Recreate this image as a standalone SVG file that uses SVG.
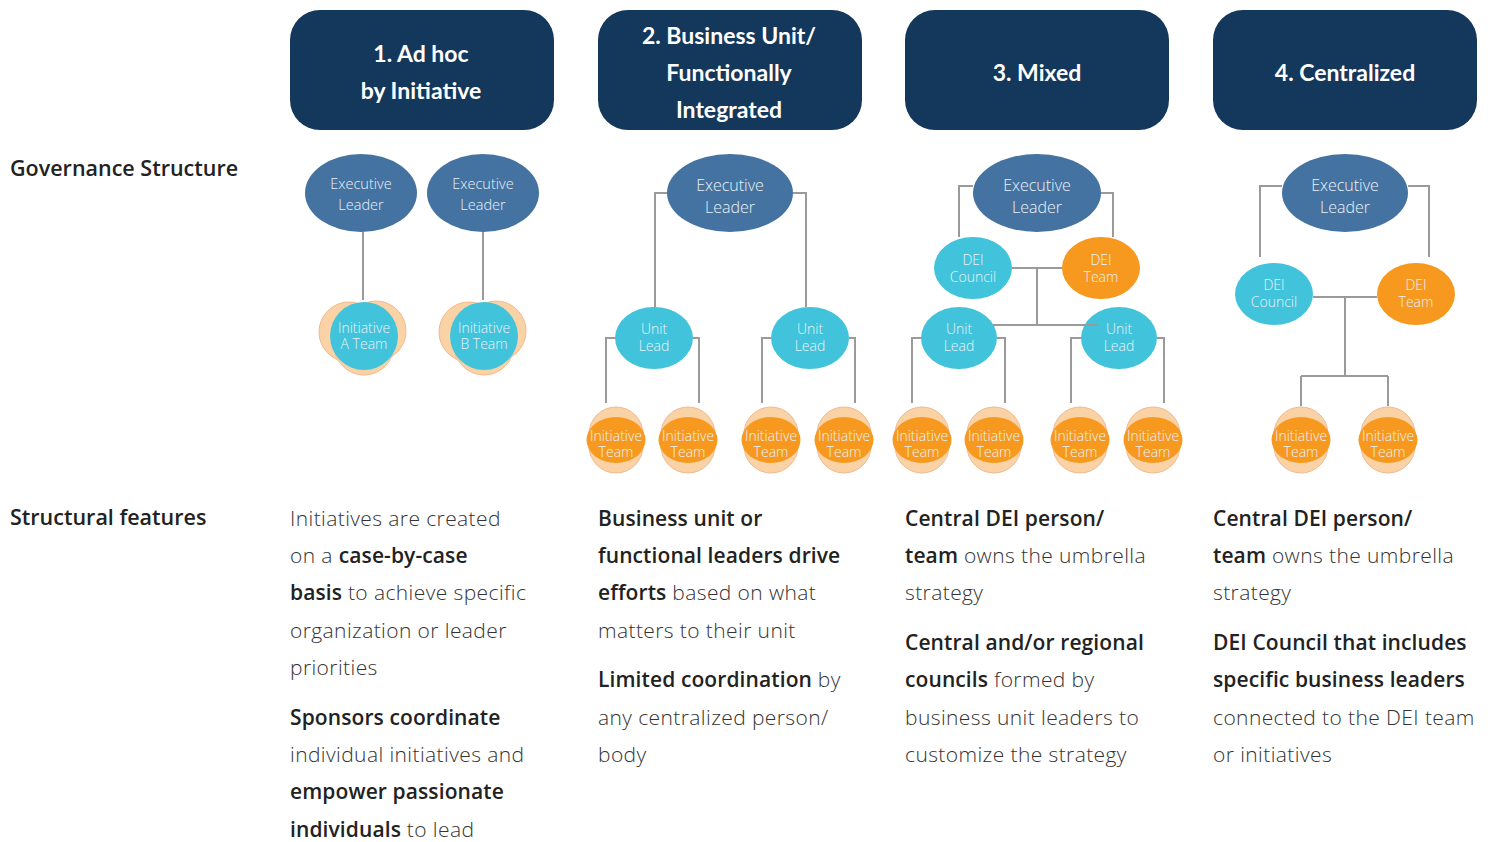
<svg xmlns="http://www.w3.org/2000/svg" width="1488" height="842" viewBox="0 0 1488 842">
<style>
.hdr{fill:#14375c}
.htx{font-family:"Lato","Open Sans",sans-serif;font-weight:700;font-size:23px;fill:#fff;text-anchor:middle}
.lbl{font-family:"Open Sans","Lato",sans-serif;font-weight:600;font-size:21.5px;fill:#222}
.body{font-family:"Open Sans","Lato",sans-serif;font-weight:300;font-size:21px;letter-spacing:0.4px;fill:#333}
.b{font-weight:600;fill:#222;letter-spacing:0.1px}
.ex{fill:#4573a1}
.cy{fill:#42c3dc}
.or{fill:#f7991f}
.pale{fill:#f9d2a6;stroke:#f4b98c;stroke-width:1}
.nt{font-family:"Open Sans","Lato",sans-serif;font-weight:300;fill:#e9f2f8;text-anchor:middle}
.s13{font-size:13.5px}.s14{font-size:14px}.s145{font-size:14.5px}.s16{font-size:16px}
.cn{fill:none;stroke:#9a9a9a;stroke-width:2}
</style>
<rect width="1488" height="842" fill="#fff"/>

<g id="header1"><rect class="hdr" x="290" y="10" width="264" height="120" rx="30"/><text class="htx" x="421" y="62">1. Ad hoc</text><text class="htx" x="421" y="99">by Initiative</text></g>
<g id="header2"><rect class="hdr" x="598" y="10" width="264" height="120" rx="30"/><text class="htx" x="729" y="44">2. Business Unit/</text><text class="htx" x="729" y="81">Functionally</text><text class="htx" x="729" y="118">Integrated</text></g>
<g id="header3"><rect class="hdr" x="905" y="10" width="264" height="120" rx="30"/><text class="htx" x="1037" y="81">3. Mixed</text></g>
<g id="header4"><rect class="hdr" x="1213" y="10" width="264" height="120" rx="30"/><text class="htx" x="1345" y="81">4. Centralized</text></g>

<text class="lbl" x="10" y="176">Governance Structure</text>
<text class="lbl" x="10" y="525">Structural features</text>

<defs>
<g id="team"><circle class="pale" cx="0" cy="-6" r="27"/><circle class="pale" cx="0" cy="6" r="27"/><ellipse class="or" cx="0" cy="0" rx="29.5" ry="23"/><text class="nt s14" x="0" y="0.5">Initiative</text><text class="nt s14" x="0" y="17">Team</text></g>
</defs>

<g id="col1-nodes">
<g id="c1-exec1"><ellipse class="ex" cx="361" cy="193" rx="56" ry="39"/><text class="nt s145" x="361" y="189">Executive</text><text class="nt s145" x="361" y="210">Leader</text></g>
<g id="c1-exec2"><ellipse class="ex" cx="483" cy="193" rx="56" ry="39"/><text class="nt s145" x="483" y="189">Executive</text><text class="nt s145" x="483" y="210">Leader</text></g>
<g id="c1-teamA"><circle class="pale" cx="349" cy="332" r="30"/><circle class="pale" cx="376" cy="331" r="30"/><circle class="pale" cx="364" cy="345" r="30"/><circle class="cy" cx="364" cy="336" r="34"/><text class="nt s14" x="364" y="332.5">Initiative</text><text class="nt s14" x="364" y="349">A Team</text></g>
<g id="c1-teamB"><circle class="pale" cx="469" cy="332" r="30"/><circle class="pale" cx="496" cy="331" r="30"/><circle class="pale" cx="484" cy="345" r="30"/><circle class="cy" cx="484" cy="336" r="34"/><text class="nt s14" x="484" y="332.5">Initiative</text><text class="nt s14" x="484" y="349">B Team</text></g>
</g>

<g id="col2-nodes">
<g id="c2-exec"><ellipse class="ex" cx="730" cy="193" rx="63" ry="39"/><text class="nt s16" x="730" y="191">Executive</text><text class="nt s16" x="730" y="213">Leader</text></g>
<g id="c2-unit1"><ellipse class="cy" cx="654" cy="338" rx="39" ry="31"/><text class="nt s14" x="654" y="333.5">Unit</text><text class="nt s14" x="654" y="350.5">Lead</text></g>
<g id="c2-unit2"><ellipse class="cy" cx="810" cy="338" rx="39" ry="31"/><text class="nt s14" x="810" y="333.5">Unit</text><text class="nt s14" x="810" y="350.5">Lead</text></g>
<use id="c2-t1" href="#team" x="616" y="440"/>
<use id="c2-t2" href="#team" x="688" y="440"/>
<use id="c2-t3" href="#team" x="771" y="440"/>
<use id="c2-t4" href="#team" x="844" y="440"/>
</g>

<g id="col3-nodes">
<g id="c3-exec"><ellipse class="ex" cx="1037" cy="193" rx="64" ry="39"/><text class="nt s16" x="1037" y="191">Executive</text><text class="nt s16" x="1037" y="213">Leader</text></g>
<g id="c3-council"><ellipse class="cy" cx="973" cy="268" rx="39" ry="31"/><text class="nt s14" x="973" y="264.5">DEI</text><text class="nt s14" x="973" y="281.5">Council</text></g>
<g id="c3-team"><ellipse class="or" cx="1101" cy="268" rx="39" ry="31"/><text class="nt s14" x="1101" y="264.5">DEI</text><text class="nt s14" x="1101" y="281.5">Team</text></g>
<g id="c3-unit1"><ellipse class="cy" cx="959" cy="338" rx="38" ry="31"/><text class="nt s14" x="959" y="333.5">Unit</text><text class="nt s14" x="959" y="350.5">Lead</text></g>
<g id="c3-unit2"><ellipse class="cy" cx="1119" cy="338" rx="38" ry="31"/><text class="nt s14" x="1119" y="333.5">Unit</text><text class="nt s14" x="1119" y="350.5">Lead</text></g>
<use id="c3-t1" href="#team" x="922" y="440"/>
<use id="c3-t2" href="#team" x="994" y="440"/>
<use id="c3-t3" href="#team" x="1080" y="440"/>
<use id="c3-t4" href="#team" x="1153" y="440"/>
</g>

<g id="col4-nodes">
<g id="c4-exec"><ellipse class="ex" cx="1345" cy="193" rx="63" ry="39"/><text class="nt s16" x="1345" y="191">Executive</text><text class="nt s16" x="1345" y="213">Leader</text></g>
<g id="c4-council"><ellipse class="cy" cx="1274" cy="294" rx="39" ry="31"/><text class="nt s14" x="1274" y="289.5">DEI</text><text class="nt s14" x="1274" y="306.5">Council</text></g>
<g id="c4-team"><ellipse class="or" cx="1416" cy="294" rx="39" ry="31"/><text class="nt s14" x="1416" y="289.5">DEI</text><text class="nt s14" x="1416" y="306.5">Team</text></g>
<use id="c4-t1" href="#team" x="1301" y="440"/>
<use id="c4-t2" href="#team" x="1388" y="440"/>
</g>

<g id="connectors">
<path class="cn" d="M363 232V300"/>
<path class="cn" d="M483 232V300"/>
<path class="cn" d="M667 193H655V307M793 193H806V307"/>
<path class="cn" d="M615 338H606V403M693 338H699V403M771 338H762V403M849 338H855V403"/>
<path class="cn" d="M973 186H959V237M1101 193H1113V237"/>
<path class="cn" d="M1012 268H1062M1037 268V325M993 325H1098"/>
<path class="cn" d="M921 338H912V403M997 338H1005V403M1081 338H1071V403M1157 338H1164V403"/>
<path class="cn" d="M1282 186H1260V257M1408 186H1429V257"/>
<path class="cn" d="M1313 297H1377M1345 297V376M1301 376H1388M1301 376V406M1388 376V406"/>
</g>

<g id="features1" class="body">
<text x="290" y="526">Initiatives are created</text>
<text x="290" y="563">on a <tspan class="b">case-by-case</tspan></text>
<text x="290" y="600"><tspan class="b">basis</tspan> to achieve specific</text>
<text x="290" y="638">organization or leader</text>
<text x="290" y="675">priorities</text>
<text x="290" y="725"><tspan class="b">Sponsors coordinate</tspan></text>
<text x="290" y="762">individual initiatives and</text>
<text x="290" y="799"><tspan class="b">empower passionate</tspan></text>
<text x="290" y="837"><tspan class="b">individuals</tspan> to lead</text>
</g>
<g id="features2" class="body">
<text x="598" y="526"><tspan class="b">Business unit or</tspan></text>
<text x="598" y="563"><tspan class="b">functional leaders drive</tspan></text>
<text x="598" y="600"><tspan class="b">efforts</tspan> based on what</text>
<text x="598" y="638">matters to their unit</text>
<text x="598" y="687"><tspan class="b">Limited coordination</tspan> by</text>
<text x="598" y="725">any centralized person/</text>
<text x="598" y="762">body</text>
</g>
<g id="features3" class="body">
<text x="905" y="526"><tspan class="b">Central DEI person/</tspan></text>
<text x="905" y="563"><tspan class="b">team</tspan> owns the umbrella</text>
<text x="905" y="600">strategy</text>
<text x="905" y="650"><tspan class="b">Central and/or regional</tspan></text>
<text x="905" y="687"><tspan class="b">councils</tspan> formed by</text>
<text x="905" y="725">business unit leaders to</text>
<text x="905" y="762">customize the strategy</text>
</g>
<g id="features4" class="body">
<text x="1213" y="526"><tspan class="b">Central DEI person/</tspan></text>
<text x="1213" y="563"><tspan class="b">team</tspan> owns the umbrella</text>
<text x="1213" y="600">strategy</text>
<text x="1213" y="650"><tspan class="b">DEI Council that includes</tspan></text>
<text x="1213" y="687"><tspan class="b">specific business leaders</tspan></text>
<text x="1213" y="725">connected to the DEI team</text>
<text x="1213" y="762">or initiatives</text>
</g>
</svg>
